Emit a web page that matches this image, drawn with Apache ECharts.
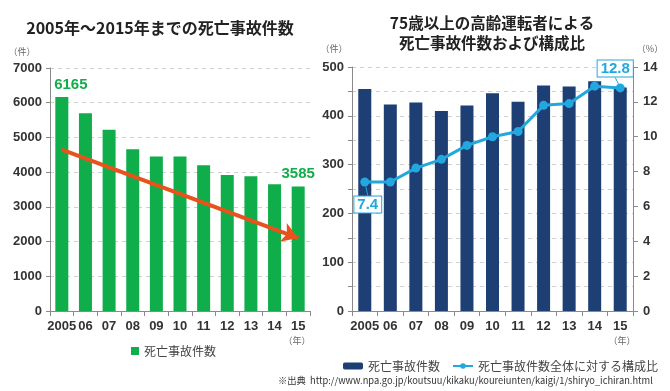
<!DOCTYPE html>
<html><head><meta charset="utf-8">
<script src="https://cdn.jsdelivr.net/npm/echarts@6/dist/echarts.min.js"></script>
<style>html,body{margin:0;padding:0;background:#fff}#c{width:670px;height:391px}</style>
</head><body><div id="c"></div>
<script>
const years = ['2005','06','07','08','09','10','11','12','13','14','15'];
const totalDeaths = [6165,5700,5220,4660,4450,4450,4200,3920,3880,3650,3585];
const trendArrow = [4650, 2100];
const elderlyDeaths = [455,423,427,410,421,446,429,462,460,471,458];
const elderlyRatio = [7.4,7.4,8.2,8.7,9.5,10.0,10.3,11.8,11.9,12.9,12.8];

const GREEN = '#0fae4b', NAVY = '#1d3f73', CYAN = '#22a7df', ORANGE = '#e8521c';
const NUMF = "'Liberation Sans', Arial, 'Noto Sans CJK JP', sans-serif";
const CJK = "'Noto Sans CJK JP', sans-serif";
const axisLineStyle = {color:'#8a8a8a', width:1};
const tickLabel = {color:'#333', fontSize:13, fontWeight:'bold', fontFamily:NUMF};
const splitDash = {show:true, lineStyle:{color:'#cfcfcf', type:[4,4], width:1}};

const chart = echarts.init(document.getElementById('c'), null, {renderer:'canvas'});

const leftData = totalDeaths.map((v,i)=>{
  if (i===0) return {value:v, label:{show:true, offset:[9,0]}};
  if (i===totalDeaths.length-1) return {value:v, label:{show:true}};
  return v;
});
const ratioData = elderlyRatio.map((v,i)=>{
  if (i===0) return {value:v, label:{show:true, position:'bottom', distance:4}, labelLine:{show:true}};
  if (i===elderlyRatio.length-1) return {value:v, label:{show:true, position:'top', distance:2}, labelLine:{show:true}};
  return v;
});

chart.setOption({
  animation:false,
  grid:[
    {left:50, right:360, top:68, bottom:80},
    {left:352, right:37, top:67, bottom:80}
  ],
  xAxis:[
    {type:'category', gridIndex:0, data:years,
     axisLine:{lineStyle:axisLineStyle}, axisTick:{show:true, length:5, lineStyle:axisLineStyle},
     axisLabel:Object.assign({margin:9, interval:0}, tickLabel)},
    {type:'category', gridIndex:1, data:years,
     axisLine:{lineStyle:axisLineStyle}, axisTick:{show:true, length:5, lineStyle:axisLineStyle},
     axisLabel:Object.assign({margin:9, interval:0}, tickLabel)}
  ],
  yAxis:[
    {type:'value', gridIndex:0, min:0, max:7000, interval:1000,
     axisLine:{show:true, lineStyle:axisLineStyle}, axisTick:{show:true, length:4, lineStyle:axisLineStyle},
     axisLabel:Object.assign({margin:8, formatter:v=>String(v)}, tickLabel), splitLine:splitDash},
    {type:'value', gridIndex:1, min:0, max:500, interval:50,
     axisLine:{show:true, lineStyle:axisLineStyle}, axisTick:{show:true, length:4, lineStyle:axisLineStyle},
     axisLabel:Object.assign({margin:8, formatter:v=> v%100===0 ? String(v) : ''}, tickLabel), splitLine:splitDash},
    {type:'value', gridIndex:1, position:'right', min:0, max:14, interval:2,
     axisLine:{show:true, lineStyle:axisLineStyle}, axisTick:{show:true, length:5, lineStyle:axisLineStyle},
     axisLabel:Object.assign({margin:10, formatter:v=>String(v)}, tickLabel), splitLine:{show:false}}
  ],
  legend:[
    {data:['死亡事故件数'], left:126, top:340, icon:'rect', itemWidth:8, itemHeight:8, itemGap:6,
     textStyle:{color:'#444', fontSize:12, fontFamily:CJK}, selectedMode:false},
    {data:['死亡事故件数(75歳以上)','死亡事故件数全体に対する構成比'], left:338, top:355, itemWidth:20, itemHeight:7, itemGap:12,
     formatter:n=> n==='死亡事故件数(75歳以上)' ? '死亡事故件数' : n,
     textStyle:{color:'#444', fontSize:12, fontFamily:CJK}, selectedMode:false}
  ],
  series:[
    {name:'死亡事故件数', type:'bar', xAxisIndex:0, yAxisIndex:0, data:leftData, barWidth:13,
     itemStyle:{color:GREEN},
     label:{show:false, position:'top', distance:5, color:GREEN, fontSize:15, fontWeight:'bold', fontFamily:NUMF},
     markLine:{silent:true, symbol:['none','arrow'], symbolSize:[15,16], animation:false,
       lineStyle:{color:ORANGE, width:4, type:'solid'}, label:{show:false},
       emphasis:{disabled:true},
       data:[[{coord:[years[0], trendArrow[0]]},{coord:[years[years.length-1], trendArrow[1]]}]]}},
    {name:'死亡事故件数(75歳以上)', type:'bar', xAxisIndex:1, yAxisIndex:1, data:elderlyDeaths, barWidth:13,
     itemStyle:{color:NAVY}},
    {name:'死亡事故件数全体に対する構成比', type:'line', xAxisIndex:1, yAxisIndex:2, data:ratioData,
     symbol:'circle', symbolSize:9, itemStyle:{color:CYAN}, lineStyle:{color:CYAN, width:3},
     label:{show:false, color:CYAN, fontSize:15, fontWeight:'bold', fontFamily:NUMF,
       backgroundColor:'#fff', borderColor:CYAN, borderWidth:1, padding:[1,3,0,3], lineHeight:15},
     labelLine:{show:true, lineStyle:{color:CYAN, width:1}},
     labelLayout:function(p){
       if (p.dataIndex===0) return {dx:3, dy:6};
       if (p.dataIndex===elderlyRatio.length-1) return {dx:-5, dy:-5};
       return {};
     }}
  ],
  graphic:[
    {type:'text', style:{x:160, y:28, text:'2005年～2015年までの死亡事故件数', fill:'#222', font:"bold 16px "+CJK, textAlign:'center', textVerticalAlign:'middle'}},
    {type:'text', style:{x:492, y:23, text:'75歳以上の高齢運転者による', fill:'#222', font:"bold 15.5px "+CJK, textAlign:'center', textVerticalAlign:'middle'}},
    {type:'text', style:{x:492, y:43, text:'死亡事故件数および構成比', fill:'#222', font:"bold 15.5px "+CJK, textAlign:'center', textVerticalAlign:'middle'}},
    {type:'text', style:{x:22, y:52, text:'（件）', fill:'#666', font:"9px "+CJK, textAlign:'center', textVerticalAlign:'middle'}},
    {type:'text', style:{x:334, y:49, text:'（件）', fill:'#666', font:"9px "+CJK, textAlign:'center', textVerticalAlign:'middle'}},
    {type:'text', style:{x:650, y:49, text:'（%）', fill:'#666', font:"9px "+CJK, textAlign:'center', textVerticalAlign:'middle'}},
    {type:'text', style:{x:297, y:341, text:'（年）', fill:'#666', font:"9px "+CJK, textAlign:'center', textVerticalAlign:'middle'}},
    {type:'text', style:{x:622, y:341, text:'（年）', fill:'#666', font:"9px "+CJK, textAlign:'center', textVerticalAlign:'middle'}},
    {type:'text', style:{x:278, y:380, text:'※出典  http://www.npa.go.jp/koutsuu/kikaku/koureiunten/kaigi/1/shiryo_ichiran.html', fill:'#333', font:"9.3px "+CJK, textAlign:'left', textVerticalAlign:'middle'}}
  ]
});
</script></body></html>
